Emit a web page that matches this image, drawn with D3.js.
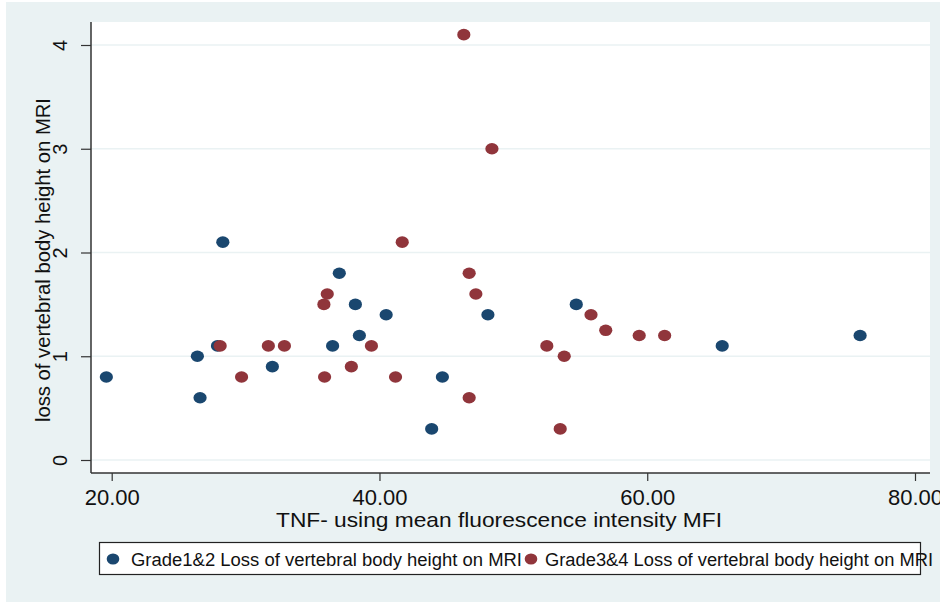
<!DOCTYPE html>
<html>
<head>
<meta charset="utf-8">
<script src="https://cdn.jsdelivr.net/npm/d3@7"></script>
<style>
  html, body { margin: 0; padding: 0; background: #ffffff; }
  svg { display: block; }
  text { font-family: "Liberation Sans", Arial, sans-serif; fill: #111; }
</style>
</head>
<body>
<svg id="chart" width="940" height="602"></svg>
<script>
// ---- data ----
const xTicks = [20, 40, 60, 80];
const xTickLabels = ["20.00", "40.00", "60.00", "80.00"];
const yTicks = [0, 1, 2, 3, 4];
const yTickLabels = ["0", "1", "2", "3", "4"];

const grade12X = [19.6, 26.4, 26.6, 27.9, 28.3, 32.0, 36.5, 37.0, 38.2, 38.5, 40.5, 44.7, 43.9, 48.1, 54.7, 65.6, 75.9];
const grade12Y = [0.8, 1.0, 0.6, 1.1, 2.1, 0.9, 1.1, 1.8, 1.5, 1.2, 1.4, 0.8, 0.3, 1.4, 1.5, 1.1, 1.2];

const grade34X = [28.1, 29.7, 31.7, 32.9, 35.9, 35.85, 36.1, 37.9, 39.4, 41.2, 41.7, 46.3, 48.4, 46.7, 47.2, 46.7, 52.5, 53.8, 53.5, 55.8, 56.9, 59.4, 61.3];
const grade34Y = [1.1, 0.8, 1.1, 1.1, 0.8, 1.5, 1.6, 0.9, 1.1, 0.8, 2.1, 4.1, 3.0, 1.8, 1.6, 0.6, 1.1, 1.0, 0.3, 1.4, 1.25, 1.2, 1.2];

const seriesNames = ["Grade1&2 Loss of vertebral body height on MRI", "Grade3&4 Loss of vertebral body height on MRI"];
const xTitle = "TNF- using mean fluorescence intensity MFI";
const yTitle = "loss of vertebral body height on MRI";

// ---- layout ----
const W = 940, H = 602;
const plot = { left: 91, right: 930, top: 22, bottom: 473 };
const colors = ["#1a476f", "#90353b"];
const bg = "#eaf2f3";

const svg = d3.select("#chart");

svg.append("rect").attr("x", 6).attr("y", 2).attr("width", W - 6).attr("height", H - 2).attr("fill", bg);
svg.append("rect").attr("x", plot.left).attr("y", plot.top)
  .attr("width", plot.right - plot.left).attr("height", plot.bottom - plot.top).attr("fill", "#ffffff");

const x = d3.scaleLinear().domain([20, 80]).range([111.7, 915]);
const y = d3.scaleLinear().domain([0, 4]).range([460, 45]);

// gridlines
svg.append("g").selectAll("line").data(yTicks).join("line")
  .attr("x1", plot.left).attr("x2", plot.right)
  .attr("y1", d => y(d)).attr("y2", d => y(d))
  .attr("stroke", "#eaf2f3").attr("stroke-width", 1.5);

// axes
const xAxis = d3.axisBottom(x).tickValues(xTicks).tickSize(8).tickFormat((d, i) => xTickLabels[i]);
const gx = svg.append("g").attr("transform", `translate(0,${plot.bottom})`).call(xAxis);
gx.select(".domain").attr("d", `M${plot.left},0H${plot.right}`).attr("stroke", "#333").attr("stroke-width", 1.5);
gx.selectAll(".tick line").attr("stroke", "#333").attr("stroke-width", 1.2);
gx.selectAll(".tick text").attr("y", 32).attr("dy", null)
  .style("font-family", "Liberation Sans, Arial, sans-serif").style("font-size", "22px").attr("fill", "#111");

const yAxis = d3.axisLeft(y).tickValues(yTicks).tickSize(10).tickFormat((d, i) => yTickLabels[i]);
const gy = svg.append("g").attr("transform", `translate(${plot.left},0)`).call(yAxis);
gy.select(".domain").attr("d", `M0,${plot.top}V${plot.bottom}`).attr("stroke", "#333").attr("stroke-width", 1.5);
gy.selectAll(".tick line").attr("stroke", "#333").attr("stroke-width", 1.2);
gy.selectAll(".tick text")
  .attr("x", null).attr("dy", null)
  .attr("transform", "translate(-24,0) rotate(-90)")
  .attr("text-anchor", "middle")
  .style("font-family", "Liberation Sans, Arial, sans-serif").style("font-size", "20px").attr("fill", "#111");

// titles
svg.append("text").attr("x", 499).attr("y", 527).attr("text-anchor", "middle")
  .style("font-size", "21px").attr("textLength", 446).attr("lengthAdjust", "spacingAndGlyphs").text(xTitle);
svg.append("text").attr("transform", `translate(50,260) rotate(-90)`).attr("text-anchor", "middle")
  .style("font-size", "20px").attr("textLength", 324).attr("lengthAdjust", "spacingAndGlyphs").text(yTitle);

// points
const series = [
  grade12X.map((v, i) => ({ x: v, y: grade12Y[i] })),
  grade34X.map((v, i) => ({ x: v, y: grade34Y[i] }))
];
series.forEach((pts, s) => {
  svg.append("g").selectAll("ellipse").data(pts).join("ellipse")
    .attr("cx", d => x(d.x)).attr("cy", d => y(d.y))
    .attr("rx", 6.6).attr("ry", 5.8).attr("fill", colors[s]);
});

// legend
const leg = svg.append("g");
leg.append("rect").attr("x", 99.5).attr("y", 542.5).attr("width", 821).attr("height", 32)
  .attr("fill", "#ffffff").attr("stroke", "#222").attr("stroke-width", 1.2);
const legItems = [{ dot: 113, tx: 131, tw: 391 }, { dot: 531, tx: 545, tw: 388 }];
legItems.forEach((it, i) => {
  leg.append("ellipse").attr("cx", it.dot).attr("cy", 559).attr("rx", 6.3).attr("ry", 5.6).attr("fill", colors[i]);
  leg.append("text").attr("x", it.tx).attr("y", 566).style("font-size", "18px")
    .attr("textLength", it.tw).attr("lengthAdjust", "spacingAndGlyphs").text(seriesNames[i]);
});
</script>
</body>
</html>
